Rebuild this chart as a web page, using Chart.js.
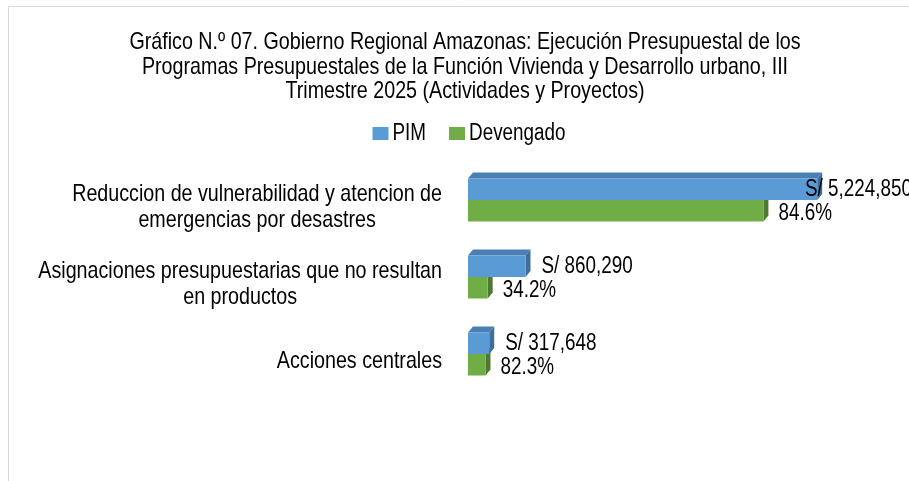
<!DOCTYPE html>
<html><head><meta charset="utf-8">
<script src="https://cdn.jsdelivr.net/npm/chart.js@4"></script>
<style>html,body{margin:0;padding:0;background:#fff;overflow:hidden}canvas{display:block}</style>
</head><body>
<canvas id="c" width="909" height="481"></canvas>
<script>
const titleLines = [
  "Gráfico N.º 07. Gobierno Regional Amazonas: Ejecución Presupuestal de los",
  "Programas Presupuestales de la Función Vivienda y Desarrollo urbano, III",
  "Trimestre 2025 (Actividades y Proyectos)"
];
const categories = [
  ["Reduccion de vulnerabilidad y atencion de", "emergencias por desastres"],
  ["Asignaciones presupuestarias que no resultan", "en productos"],
  ["Acciones centrales"]
];
const seriesNames = ["PIM", "Devengado"];
const pim = [5224850, 860290, 317648];
const devengado = [4420223, 294219, 261424];
const pimLabels = ["S/ 5,224,850", "S/ 860,290", "S/ 317,648"];
const devengadoLabels = ["84.6%", "34.2%", "82.3%"];
const xMax = 6000000;

const FONT = "'Liberation Sans', Arial, sans-serif";
const NARROW = 0.82;
const TXT = '#000000';

function textW(ctx, t) { return ctx.measureText(t).width * NARROW; }
function drawNarrow(ctx, t, x, y, align) {
  const w = textW(ctx, t);
  let left = x;
  if (align === 'center') left = x - w / 2;
  else if (align === 'right') left = x - w;
  ctx.save();
  ctx.textAlign = 'left';
  ctx.translate(left, y);
  ctx.scale(NARROW, 1);
  ctx.fillText(t, 0, 0);
  ctx.restore();
}

const plugin3D = {
  id: 'plugin3D',
  beforeDraw(chart) {
    const ctx = chart.ctx;
    ctx.save();
    ctx.strokeStyle = '#D9D9D9';
    ctx.lineWidth = 1;
    ctx.beginPath();
    ctx.moveTo(8.5, chart.height);
    ctx.lineTo(8.5, 6.5);
    ctx.lineTo(chart.width, 6.5);
    ctx.stroke();
    ctx.restore();
  },
  beforeDatasetsDraw(chart) {
    const ctx = chart.ctx, dx = 5, dy = 6;
    ctx.save();
    [1, 0].forEach(di => {
      const meta = chart.getDatasetMeta(di);
      const ds = chart.data.datasets[di];
      meta.data.forEach(bar => {
        const p = bar.getProps(['x', 'y', 'base', 'height'], true);
        const top = p.y - p.height / 2, bot = p.y + p.height / 2;
        ctx.fillStyle = ds.topColor;
        ctx.beginPath();
        ctx.moveTo(p.base, top); ctx.lineTo(p.base + dx, top - dy);
        ctx.lineTo(p.x + dx, top - dy); ctx.lineTo(p.x, top);
        ctx.closePath(); ctx.fill();
        ctx.fillStyle = ds.sideColor;
        ctx.beginPath();
        ctx.moveTo(p.x, top); ctx.lineTo(p.x + dx, top - dy);
        ctx.lineTo(p.x + dx, bot - dy); ctx.lineTo(p.x, bot);
        ctx.closePath(); ctx.fill();
      });
    });
    ctx.restore();
  },
  afterDraw(chart) {
    const ctx = chart.ctx;
    ctx.save();
    ctx.fillStyle = TXT;
    ctx.textBaseline = 'middle';
    // title
    ctx.font = '24px ' + FONT;
    titleLines.forEach((l, k) => drawNarrow(ctx, l, 465, 42.5 + k * 24.5, 'center'));
    // category labels
    const ys = chart.scales.y;
    categories.forEach((lines, i) => {
      const yc = ys.getPixelForValue(i) + 7;
      const maxW = Math.max(...lines.map(l => textW(ctx, l)));
      const cx = 442 - maxW / 2;
      lines.forEach((l, k) => {
        drawNarrow(ctx, l, cx, yc + (k - (lines.length - 1) / 2) * 26, 'center');
      });
    });
    // data labels
    ctx.font = '23px ' + FONT;
    const labelSets = [pimLabels, devengadoLabels];
    [0, 1].forEach(di => {
      const meta = chart.getDatasetMeta(di);
      meta.data.forEach((bar, i) => {
        const p = bar.getProps(['x', 'y'], true);
        const t = labelSets[di][i];
        const w = textW(ctx, t);
        let x = p.x + (di === 1 ? 15 : 16);
        if (x + w > chart.width) x = chart.width - w + 3;
        drawNarrow(ctx, t, x, p.y + (di === 1 ? 3 : 0), 'left');
      });
    });
    // legend
    const sq = 16, gap = 4, spacing = 23;
    const ws = seriesNames.map(n => textW(ctx, n));
    const total = sq + gap + ws[0] + spacing + sq + gap + ws[1];
    let lx = 469 - total / 2;
    const ly = 133.5;
    seriesNames.forEach((n, i) => {
      ctx.fillStyle = chart.data.datasets[i].backgroundColor;
      ctx.fillRect(lx, ly - 6.5, sq, 13);
      ctx.fillStyle = TXT;
      drawNarrow(ctx, n, lx + sq + gap, ly, 'left');
      lx += sq + gap + ws[i] + spacing;
    });
    ctx.restore();
  }
};

new Chart(document.getElementById('c'), {
  type: 'bar',
  data: {
    labels: categories,
    datasets: [
      { label: seriesNames[0], data: pim, backgroundColor: '#5B9BD5', topColor: '#4A7FB3', sideColor: '#3F6E9C', borderWidth: 0 },
      { label: seriesNames[1], data: devengado, backgroundColor: '#70AD47', topColor: '#5E9439', sideColor: '#4E7A30', borderWidth: 0 }
    ]
  },
  options: {
    indexAxis: 'y',
    responsive: false,
    animation: false,
    devicePixelRatio: 1,
    categoryPercentage: 0.56,
    barPercentage: 1.0,
    layout: { padding: { left: 61, right: 40, top: 161.5, bottom: 88.5 } },
    plugins: {
      legend: { display: false },
      tooltip: { enabled: false },
      title: { display: false }
    },
    scales: {
      x: { display: false, min: 0, max: xMax },
      y: {
        display: true,
        ticks: { display: false },
        grid: { display: false },
        border: { display: false },
        afterFit(scale) { scale.width = 407; }
      }
    }
  },
  plugins: [plugin3D]
});
</script>
</body></html>
